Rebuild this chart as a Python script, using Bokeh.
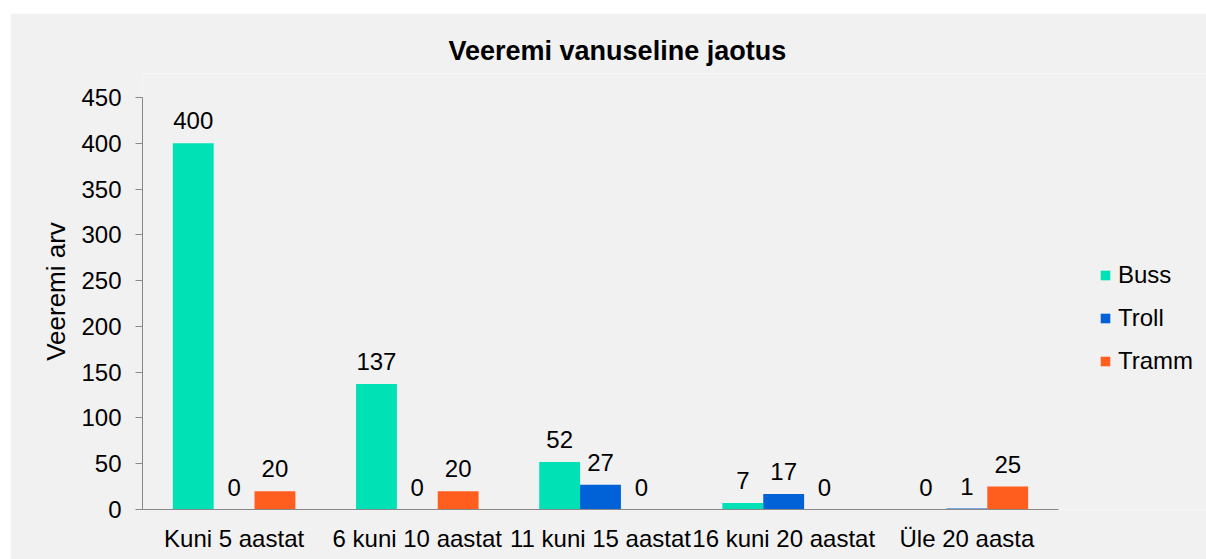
from bokeh.plotting import figure
from bokeh.models import (ColumnDataSource, Range1d, Legend, LegendItem,
                          LabelSet, Spacer, FixedTicker)
from bokeh.core.properties import value
from bokeh.transform import dodge
from bokeh.layouts import column, row
from bokeh.embed import file_html
from bokeh.resources import INLINE

categories = ["Kuni 5 aastat", "6 kuni 10 aastat", "11 kuni 15 aastat",
              "16 kuni 20 aastat", "Üle 20 aasta"]
buss = [400, 137, 52, 7, 0]
troll = [0, 0, 27, 17, 1]
tramm = [20, 20, 0, 0, 25]
series_names = ["Buss", "Troll", "Tramm"]
colors = ["#00E1B6", "#0062D6", "#FF5E1E"]
y_ticks = [0, 50, 100, 150, 200, 250, 300, 350, 400, 450]

FONT = "Liberation Sans"
BG = "#f1f1f1"

# category slots on a numeric axis (slot i centred at i + 0.5)
xpos = [i + 0.5 for i in range(len(categories))]

source = ColumnDataSource(dict(x=xpos, cat=categories, Buss=buss, Troll=troll, Tramm=tramm,
                               Buss_t=[str(v) for v in buss],
                               Troll_t=[str(v) for v in troll],
                               Tramm_t=[str(v) for v in tramm]))

n = len(categories)
ymax = y_ticks[-1]
p = figure(x_range=Range1d(0, n * 1.1616),
           y_range=Range1d(0, ymax * 436 / 412),
           width=1196, height=546, output_backend="svg", toolbar_location=None,
           min_border_left=132, min_border_right=0, min_border_top=60,
           min_border_bottom=50,
           background_fill_color=BG, border_fill_color=BG, outline_line_color=None)

p.title.text = "Veeremi vanuseline jaotus"
p.title.text_font = FONT
p.title.text_font_size = "27px"
p.title.text_font_style = "bold"
p.title.text_color = "black"
p.title.align = "left"
p.title.offset = 306
p.title.standoff = 16

p.xgrid.visible = False
p.ygrid.visible = False

w = 0.223
offsets = [-w, 0.0, w]
items = []
for name, col, off in zip(series_names, colors, offsets):
    r = p.vbar(x=dodge("x", off), top=name, width=w, source=source,
               fill_color=col, line_color=None)
    items.append(LegendItem(label=name, renderers=[r]))
    lbl = LabelSet(x=dodge("x", off), y=name, text=name + "_t",
                   source=source, text_align="center", text_baseline="alphabetic",
                   y_offset=14, text_font=value(FONT), text_font_size="24px",
                   text_color="black")
    p.add_layout(lbl)

legend = Legend(items=items, location=(957, 134), orientation="vertical",
                label_text_font=FONT, label_text_font_size="24px",
                label_text_color="black", glyph_width=12, glyph_height=12,
                label_height=28, spacing=15, label_standoff=7, padding=0,
                margin=0, border_line_color=None, background_fill_alpha=0)
p.add_layout(legend)

axis_color = "#888888"
p.yaxis.ticker = y_ticks
p.yaxis.bounds = (0, ymax)
p.yaxis.axis_line_color = axis_color
p.yaxis.major_tick_line_color = axis_color
p.yaxis.major_tick_out = 7
p.yaxis.major_tick_in = 0
p.yaxis.minor_tick_line_color = None
p.yaxis.major_label_text_font = FONT
p.yaxis.major_label_text_font_size = "24px"
p.yaxis.major_label_text_color = "black"
p.yaxis.major_label_standoff = 14
p.yaxis.axis_label = "Veeremi arv"
p.yaxis.axis_label_text_font = FONT
p.yaxis.axis_label_text_font_size = "26px"
p.yaxis.axis_label_text_font_style = "normal"
p.yaxis.axis_label_text_color = "black"
p.yaxis.axis_label_standoff = 7

p.xaxis.ticker = FixedTicker(ticks=xpos)
p.xaxis.major_label_overrides = {x: c for x, c in zip(xpos, categories)}
p.xaxis.bounds = (0, n)
p.xaxis.axis_line_color = axis_color
p.xaxis.major_tick_line_color = None
p.xaxis.major_tick_out = 0
p.xaxis.major_tick_in = 0
p.xaxis.minor_tick_line_color = None
p.xaxis.major_label_text_font = FONT
p.xaxis.major_label_text_font_size = "24px"
p.xaxis.major_label_text_color = "black"
p.xaxis.major_label_standoff = 15

layout = column(Spacer(height=13), row(Spacer(width=10), p, spacing=0), spacing=0)

open("out.html", "w").write(file_html(layout, INLINE))
